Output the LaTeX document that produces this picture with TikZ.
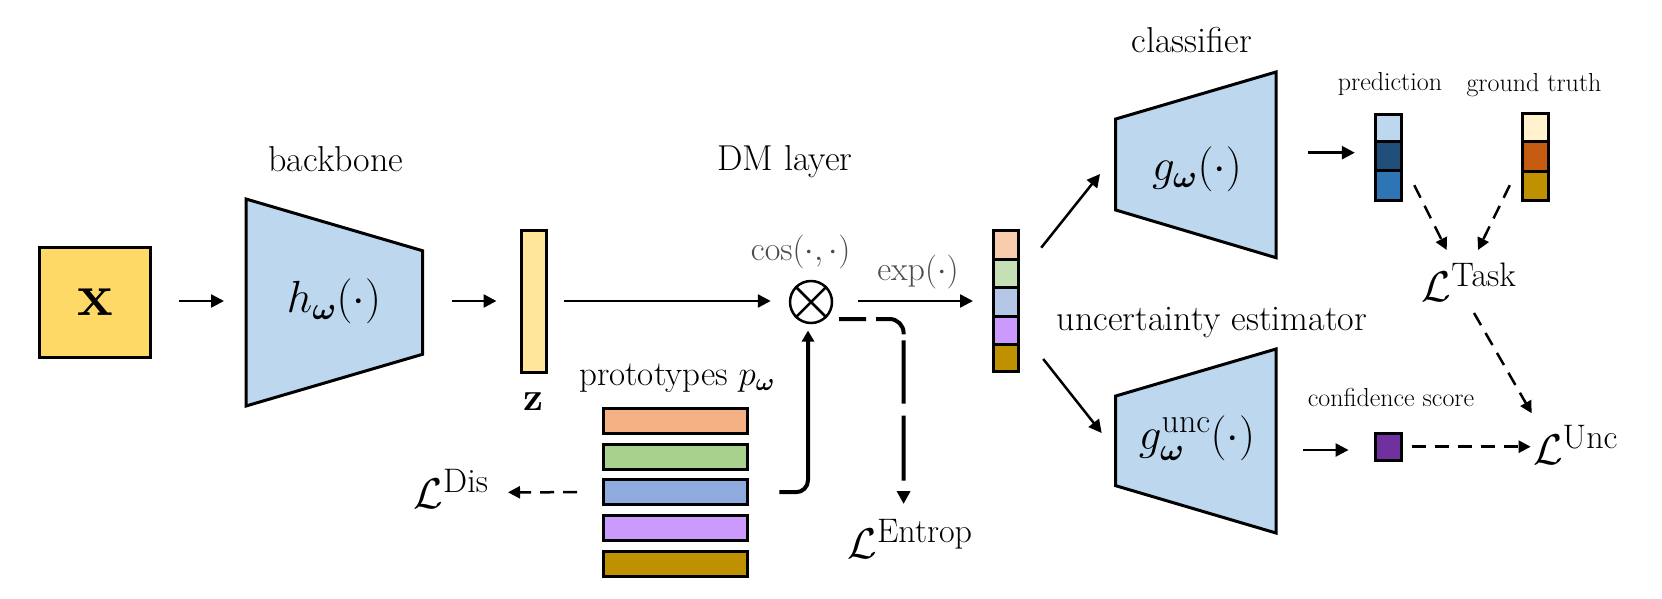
\RequirePackage{fix-cm}
\documentclass[tikz,border=0pt]{standalone}
\usepackage{amsmath,bm}
\usepackage{fontspec}
\setmainfont{Latin Modern Roman}
\usetikzlibrary{arrows.meta,calc}
\definecolor{xyel}{HTML}{FFD966}
\definecolor{zyel}{HTML}{FFE699}
\definecolor{trapblue}{HTML}{BDD7EE}
\definecolor{va}{HTML}{F8CBAD}
\definecolor{vb}{HTML}{C5E0B4}
\definecolor{vc}{HTML}{B4C7E7}
\definecolor{vd}{HTML}{CC99FF}
\definecolor{gold}{HTML}{BF9000}
\definecolor{pa}{HTML}{F4B183}
\definecolor{pb}{HTML}{A9D18E}
\definecolor{pc}{HTML}{8FAADC}
\definecolor{pra}{HTML}{BDD7EE}
\definecolor{prb}{HTML}{1F4E79}
\definecolor{prc}{HTML}{2E75B6}
\definecolor{gta}{HTML}{FFF2CC}
\definecolor{gtb}{HTML}{C55A11}
\definecolor{conf}{HTML}{7030A0}
\newcommand\fsz[1]{\fontsize{#1}{#1}\selectfont}
\newcommand\lossl[1]{$\mathcal{L}^{\text{\fsz{34}#1}}$}
\begin{document}
\begin{tikzpicture}[x=1pt,y=-1pt,
  box/.style={draw,line width=3pt,inner sep=0},
  cell/.style={draw,line width=3pt},
  trap/.style={draw,line width=3pt,fill=trapblue,line join=miter},
  arr/.style={line width=2.5pt,-{Triangle[length=13pt,width=13pt]}},
  dsh/.style={line width=2.5pt,dash pattern=on 14pt off 9pt,-{Triangle[length=12pt,width=12pt]}},
  lbl/.style={inner sep=0,anchor=base,font=\fsz{36}},
  small/.style={inner sep=0,anchor=base,font=\fsz{26}},
  mlbl/.style={inner sep=0,font=\fsz{45}},
  loss/.style={inner sep=0,font=\fsz{43}},
  gray/.style={text=black!70}]
\useasboundingbox (0,0) rectangle (1662,598);

% input
\node[box,fill=xyel,minimum width=111.5pt,minimum height=110.6pt,font=\fsz{60}] (xin) at (95.2,302.5) {$\mathbf{x}$};

% backbone
\draw[trap] (246,199) -- (422.5,250.7) -- (422.5,354.3) -- (246,406) -- cycle;
\coordinate (bbW) at (246,301);
\coordinate (bbE) at (422.5,301);
\node[mlbl] (bb) at (334,301) {$h_{\bm{\omega}}(\cdot)$};
\node[lbl] (bbl) at (336,171.7) {backbone};

% feature z
\node[box,fill=zyel,minimum width=25pt,minimum height=142pt] (zv) at (534,301.5) {};
\node[inner sep=0,anchor=base,font=\fsz{40}] (zl) at (533,410) {$\mathbf{z}$};

% DM layer
\node[lbl] (dml) at (785,170) {DM layer};
\node[circle,draw,line width=2.5pt,minimum size=42pt,inner sep=0] (ot) at (811,302) {};
\draw[line width=2.5pt] (ot.45) -- (ot.225) (ot.135) -- (ot.315);
\node[lbl,font=\fsz{34},gray] (cosl) at (800.7,260) {$\cos(\cdot,\cdot)$};
\node[lbl,font=\fsz{34},gray] (expl) at (918,280) {$\exp(\cdot)$};

% prototypes
\node[lbl,font=\fsz{35}] (protl) at (677,385) {prototypes $p_{\bm{\omega}}$};
\foreach \i/\c/\y in {1/pa/421.2,2/pb/456.9,3/pc/492.2,4/vd/528,5/gold/563.7}
  \node[box,fill=\c,minimum width=143.5pt,minimum height=24.7pt] (p\i) at (675.7,\y) {};

% distance vector
\foreach \c/\ya/\yb in {va/230.5/259,vb/259/287.7,vc/287.7/316,vd/316/344,gold/344/371.5}
  \draw[cell,fill=\c] (993.2,\ya) rectangle (1018,\yb);
\node[inner sep=0,minimum width=24.8pt,minimum height=141pt] (vec) at (1005.6,301) {};

% classifier
\draw[trap] (1115.7,119) -- (1276,72) -- (1276,257.7) -- (1115.7,210) -- cycle;
\coordinate (clsW) at (1115.7,164.5);
\coordinate (clsE) at (1276,165);
\node[mlbl] (cls) at (1197,169) {$g_{\bm{\omega}}(\cdot)$};
\node[lbl] (clsl) at (1191.7,52.3) {classifier};

% uncertainty estimator
\draw[trap] (1115.7,396) -- (1276,349) -- (1276,533) -- (1115.7,485.7) -- cycle;
\coordinate (uncW) at (1115.7,441);
\coordinate (uncE) at (1276,441);
\node[mlbl] (unc) at (1197,438) {$g_{\bm{\omega}}^{\text{\fsz{34}unc}}(\cdot)$};
\node[lbl] (uncl) at (1212,330) {uncertainty estimator};

% prediction and ground truth
\foreach \c/\ya/\yb in {pra/114.2/141.7,prb/141.7/170.7,prc/170.7/200.2}
  \draw[cell,fill=\c] (1375.5,\ya) rectangle (1401.2,\yb);
\node[inner sep=0,minimum width=25.7pt,minimum height=86pt] (pred) at (1388.4,157.2) {};
\foreach \c/\ya/\yb in {gta/113.2/141.4,gtb/141.4/171.4,gold/171.4/200.2}
  \draw[cell,fill=\c] (1522.5,\ya) rectangle (1548.5,\yb);
\node[inner sep=0,minimum width=26pt,minimum height=87pt] (gt) at (1535.5,156.7) {};
\node[small] (predl) at (1390,90) {prediction};
\node[small] (gtl) at (1534,91.7) {ground truth};

% confidence
\node[box,fill=conf,minimum width=25.7pt,minimum height=27pt] (cf) at (1388.4,446.7) {};
\node[small] (cfl) at (1391,406.7) {confidence score};

% losses
\node[loss] (LT) at (1469,282) {\lossl{Task}};
\node[loss] (LU) at (1575.5,445) {\lossl{Unc}};
\node[loss] (LD) at (451,489) {\lossl{Dis}};
\node[loss] (LE) at (910,539) {\lossl{Entrop}};

% solid connectors
\draw[arr] ($(xin.east)+(27,-1.5)$) -- ($(bbW)+(-22,0)$);
\draw[arr] ($(bbE)+(29.5,0)$) -- ($(zv.west)+(-23.5,-0.5)$);
\draw[arr] ($(zv.east)+(15.5,-0.5)$) -- ($(ot.west)+(-18,-1)$);
\draw[arr] ($(ot.east)+(25,-1)$) -- ($(vec.west)+(-20,0)$);
\draw[arr] ($(vec.east)+(23,-53.3)$) -- ($(clsW)+(-15.7,9.5)$);
\draw[arr] ($(vec.east)+(25,58)$) -- ($(uncW)+(-14,-8)$);
\draw[arr] ($(clsE)+(32,-12.3)$) -- ($(pred.west)+(-20.5,-4.5)$);
\draw[arr] ($(uncE)+(27,9)$) -- ($(cf.west)+(-25.5,3.3)$);
\draw[line width=4pt,rounded corners=12pt,-{Triangle[length=11pt,width=12pt]}]
  ($(p3.east)+(30.5,0)$) -| ($(ot.south)+(-3,6.3)$);

% dashed connectors
\draw[line width=4pt,rounded corners=14pt,dash pattern=on 27pt off 10pt on 37pt off 6pt on 63pt off 12pt on 65pt off 20pt,-{Triangle[length=13pt,width=13pt]}]
  ($(ot.center)+(28,17)$) -| ($(LE)+(-6.4,-35)$);
\draw[dsh] ($(p3.west)+(-25.4,0)$) -- ($(LD)+(57,3.3)$);
\draw[dsh] ($(pred.south east)+(12.8,-15.2)$) -- ($(LT)+(-22.3,-32)$);
\draw[dsh] ($(gt.south west)+(-12.5,-15.2)$) -- ($(LT)+(9,-32)$);
\draw[dsh] ($(LT)+(5,31)$) -- ($(LU)+(-43.8,-31.7)$);
\draw[dsh] ($(cf.east)+(8.8,0)$) -- ($(LU)+(-44.8,1.7)$);
\end{tikzpicture}
\end{document}
